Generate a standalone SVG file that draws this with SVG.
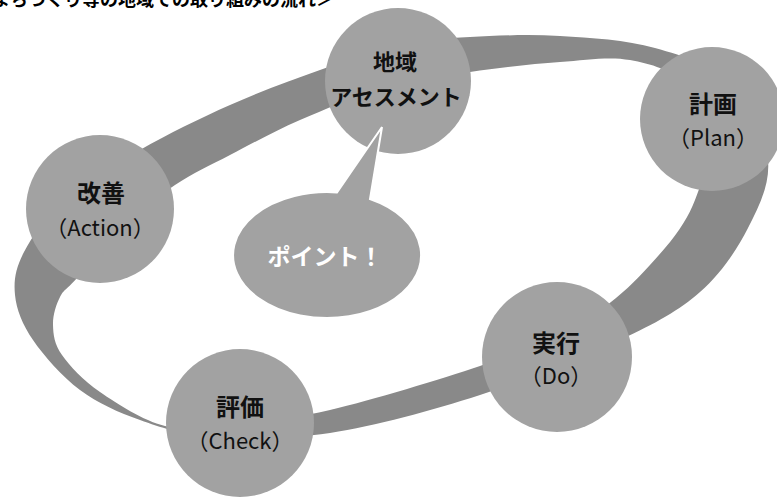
<svg xmlns="http://www.w3.org/2000/svg" width="777" height="497" viewBox="0 0 777 497">
<style>
.node{fill:#a2a2a2}
.band{fill:#898989;fill-rule:evenodd}
.lbl{font-family:"Noto Sans CJK JP","Noto Sans",sans-serif;font-weight:bold;font-size:24px;fill:#111;text-anchor:middle}
.sub{font-family:"Noto Sans CJK JP","Noto Sans",sans-serif;font-size:22px;fill:#111;text-anchor:middle}
.title{font-family:"Noto Sans CJK JP",sans-serif;font-weight:bold;font-size:18px;fill:#000;text-anchor:end}
.pt{font-family:"Noto Sans CJK JP",sans-serif;font-weight:bold;font-size:23px;fill:#fff;text-anchor:middle}
</style>
<rect width="777" height="497" fill="#fff"/>
<text class="title" x="334" y="6">＜まちづくり等の地域での取り組みの流れ＞</text>
<g id="connectors">
<path class="band" d="M470,37 C496.7,35.5 529.2,34.2 560,36 S625.8,39.8 655,48 S716.2,66.3 735,85 S765.8,136.2 768,160 S759.3,206 748,228 S721.3,273.3 700,292 S656.7,322.8 620,340 S528.3,379.5 480,395 S375,426.2 330,433 S241.7,438.2 210,436 S161.7,427.7 140,420 S97.8,403.3 80,390 S43.8,355.8 33,340 S16.5,309.7 15,295 S15.7,267.8 24,252 S45.7,217 65,200 S112.5,165.8 140,150 S200,118.3 230,105 S291.7,80 320,70 S375,50.5 400,45 S443.3,38.5 470,37 Z M470,72 C500,67.3 533.3,64 560,62 S609.2,56.2 630,60 S672.5,70 685,85 S703.3,130.8 705,150 S701.3,183.8 695,200 S679.8,230.8 665,248 S633.8,283.7 616,298 S583,321.5 560,333 S518.3,353.2 480,366 S371.7,400.3 330,410 S257.5,421.3 230,424 S186.7,431.3 165,426 S117.2,403.8 100,392 S69.8,366.2 62,355 S53.3,334.7 53,325 S56,304.8 60,297 S67,289.5 77,278 S103.7,243.5 120,228 S156.7,197.2 175,185 S209.2,165.8 230,155 S275,130.8 300,120 S351.7,98 380,90 S440,76.7 470,72 Z"/>
</g>
<g id="assessment">
<circle class="node" cx="398" cy="81" r="73"/>
<text class="lbl" x="395" y="70" style="font-size:22px">地域</text>
<text class="lbl" x="396" y="105" style="font-size:22px">アセスメント</text>
</g>
<g id="plan">
<circle class="node" cx="712" cy="119" r="72"/>
<text class="lbl" x="713" y="113">計画</text>
<text class="sub" x="713" y="146">（Plan）</text>
</g>
<g id="do">
<circle class="node" cx="557" cy="357" r="75"/>
<text class="lbl" x="556" y="352">実行</text>
<text class="sub" x="556" y="384">（Do）</text>
</g>
<g id="check">
<circle class="node" cx="240" cy="423" r="74"/>
<text class="lbl" x="240" y="416">評価</text>
<text class="sub" x="240" y="449">（Check）</text>
</g>
<g id="action">
<circle class="node" cx="100" cy="209" r="74"/>
<text class="lbl" x="101" y="202">改善</text>
<text class="sub" x="100" y="236">（Action）</text>
</g>
<g id="point">
<path class="node" stroke="#fff" stroke-width="2" d="M337,192.4 L382,127 L370,199 A94,63 0 1 1 337,192.4 Z"/>
<text class="pt" x="325" y="265">ポイント！</text>
</g>
</svg>
